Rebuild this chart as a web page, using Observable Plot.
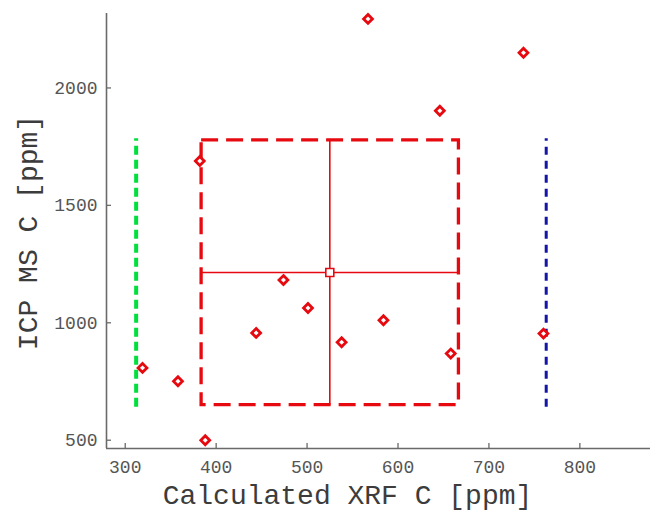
<!DOCTYPE html>
<html><head><meta charset="utf-8">
<script src="https://cdn.jsdelivr.net/npm/d3@7"></script>
<script src="https://cdn.jsdelivr.net/npm/@observablehq/plot@0.6"></script>
<style>html,body{margin:0;padding:0;background:#fff}#chart svg{display:block}</style>
</head><body><div id="chart"></div>
<script>
// ---- data ----
const xrf = [319, 358, 382, 388, 444, 474, 501, 538, 567, 584, 646, 658, 738, 760];
const icp = [808, 751, 1689, 500, 957, 1182, 1063, 917, 2294, 1011, 1903, 869, 2150, 954];
const center = [525, 1214];          // mean point (XRF, ICP)
const boxX = [384, 667];             // dashed box XRF extent
const boxY = [649, 1777];            // dashed box ICP extent
const greenX = [312];                // green dashed limit
const blueX = [763];                 // blue dashed limit
const limitY = [640, 1784];          // vertical extent of the limit lines
const xTicks = [300, 400, 500, 600, 700, 800];
const yTicks = [500, 1000, 1500, 2000];
const xDomain = [279.4, 877.7];
const yDomain = [464.7, 2317];
const xLabel = "Calculated XRF C [ppm]";
const yLabel = "ICP MS C [ppm]";

// ---- styling ----
const W = 651, H = 511, mL = 106, mR = 1, mT = 13, mB = 63;
const frameW = W - mL - mR, frameH = H - mT - mB;
const red = "#e60a10", green = "#00e03c", blue = "#1414a8", axisGray = "#6a6a6a";
const mono = "'Courier New', 'Liberation Mono', monospace";

const points = xrf.map((x, i) => ({x, y: icp[i]}));
const box = [{x1: boxX[0], x2: boxX[1], y1: boxY[0], y2: boxY[1]}];

const chart = Plot.plot({
  width: W, height: H,
  marginLeft: mL, marginRight: mR, marginTop: mT, marginBottom: mB,
  style: {background: "#fff", overflow: "visible"},
  x: {domain: xDomain},
  y: {domain: yDomain},
  marks: [
    // axis lines
    Plot.ruleX([xDomain[0]], {x: d => d, stroke: axisGray, strokeWidth: 1.6}),
    Plot.ruleY([yDomain[0]], {y: d => d, stroke: axisGray, strokeWidth: 1.6}),
    // inward ticks
    Plot.ruleX(xTicks, {x: d => d, insetTop: frameH - 5, stroke: axisGray, strokeWidth: 1.3}),
    Plot.ruleY(yTicks, {y: d => d, insetRight: frameW - 5, stroke: axisGray, strokeWidth: 1.3}),
    // tick labels
    Plot.axisX(xTicks, {tickSize: 0, tickPadding: 12, label: null, tickFormat: d => String(d),
      fontSize: 18, fontFamily: mono, color: "#555"}),
    Plot.axisY(yTicks, {tickSize: 0, tickPadding: 9, label: null, tickFormat: d => String(d),
      fontSize: 18, fontFamily: mono, color: "#555"}),
    // limit lines
    Plot.ruleX(greenX, {x: d => d, y1: limitY[0], y2: limitY[1], stroke: green, strokeWidth: 4, strokeDasharray: "9,5"}),
    Plot.ruleX(blueX, {x: d => d, y1: limitY[0], y2: limitY[1], stroke: blue, strokeWidth: 3, strokeDasharray: "8,6"}),
    // dashed box
    Plot.rect(box, {x1: "x1", x2: "x2", y1: "y1", y2: "y2", fill: "none", stroke: red, strokeWidth: 3.3, strokeDasharray: "17,8"}),
    // cross through mean
    Plot.ruleY([center[1]], {y: d => d, x1: boxX[0], x2: boxX[1], stroke: red, strokeWidth: 1.6}),
    Plot.ruleX([center[0]], {x: d => d, y1: boxY[0], y2: boxY[1], stroke: red, strokeWidth: 1.6}),
    // data points
    Plot.dot(points, {x: "x", y: "y", symbol: "diamond2", r: 4, stroke: red, strokeWidth: 2.8, fill: "white"}),
    // mean marker
    Plot.dot([center], {x: d => d[0], y: d => d[1], symbol: "square", r: 4.5, stroke: red, strokeWidth: 1.6, fill: "white"}),
    // axis titles
    Plot.text([xLabel], {text: d => d, frameAnchor: "bottom", textAnchor: "middle", dx: -31, dy: 47, lineAnchor: "middle",
      fontSize: 28, fontFamily: mono, fill: "#3c3c3c"}),
    Plot.text([yLabel], {text: d => d, frameAnchor: "left", textAnchor: "middle", rotate: -90, dx: -78, dy: 1.5, lineAnchor: "middle",
      fontSize: 28, fontFamily: mono, fill: "#3c3c3c"})
  ]
});
document.getElementById("chart").appendChild(chart);
</script>
</body></html>
